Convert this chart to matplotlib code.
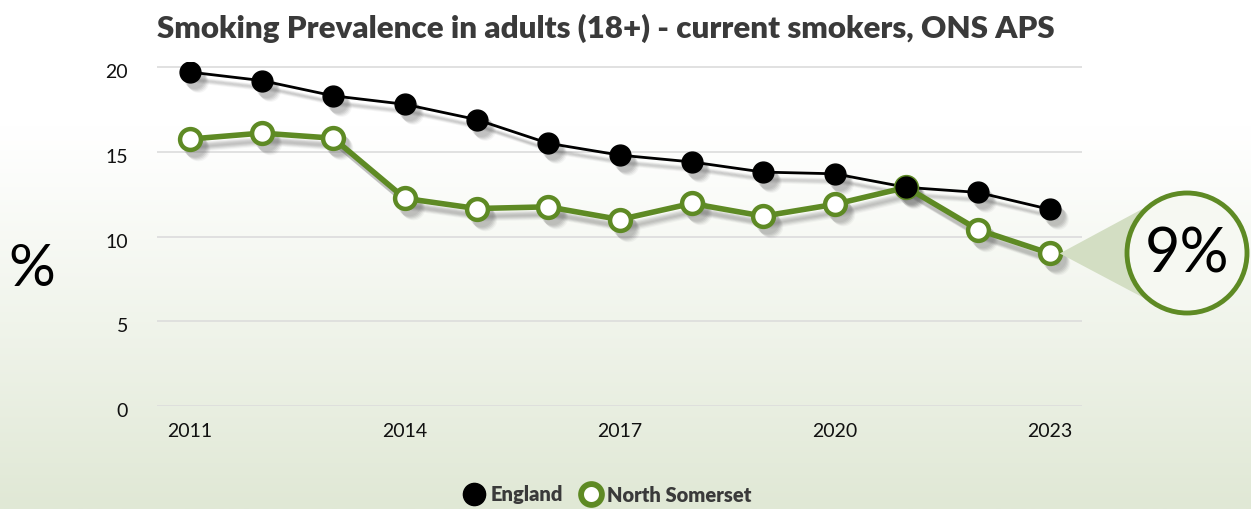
import matplotlib
matplotlib.use("Agg")
import matplotlib.pyplot as plt
import matplotlib.transforms as mtransforms
from matplotlib.patches import Circle, Polygon
from matplotlib.lines import Line2D
import numpy as np

years = list(range(2011, 2024))
england = [19.7, 19.2, 18.3, 17.8, 16.9, 15.5, 14.8, 14.4, 13.8, 13.7, 12.9, 12.6, 11.6]
north_somerset = [15.75, 16.1, 15.8, 12.25, 11.65, 11.75, 11.0, 11.95, 11.2, 11.9, 12.9, 10.4, 9.0]
xtick_years = [2011, 2014, 2017, 2020, 2023]
yticks = [0, 5, 10, 15, 20]
title = "Smoking Prevalence in adults (18+) - current smokers, ONS APS"
callout_text = "9%"

GREEN = "#5e8a24"
FONT = ["Lato", "DejaVu Sans"]
plt.rcParams["font.family"] = FONT

W, H = 1251, 509
fig = plt.figure(figsize=(W / 100, H / 100), dpi=100)

# background gradient
bg = fig.add_axes([0, 0, 1, 1], zorder=-10)
bg.axis("off")
n = 256
t = np.linspace(0, 1, n)  # 0 top, 1 bottom
f = np.clip((t - 0.25) / 0.75, 0, 1) ** 1.1
top = np.array([1.0, 1.0, 1.0])
bot = np.array([0xe0, 0xe8, 0xd5]) / 255
grad = top[None, :] * (1 - f[:, None]) + bot[None, :] * f[:, None]
bg.imshow(grad[:, None, :], aspect="auto", extent=[0, 1, 0, 1])
bg.set_xlim(0, 1)
bg.set_ylim(0, 1)

# main axes: left 157, right 1082, top 67 (y=20), bottom 406 (y=0)
ax_left = 157 / W
ax_right = 1082 / W
y20 = 67
y0 = 406
ymax = 20.3
ytop_px = y0 - (y0 - y20) * ymax / 20
ax = fig.add_axes([ax_left, 1 - y0 / H, ax_right - ax_left, (y0 - ytop_px) / H])
ax.patch.set_alpha(0)
ax.set_xlim(2010.54, 2023.45)
ax.set_ylim(0, ymax)
for s in ax.spines.values():
    s.set_visible(False)
ax.set_yticks(yticks)
ax.set_xticks(xtick_years)
ax.set_xticklabels([str(y) for y in xtick_years])
ax.tick_params(axis="both", length=0, labelsize=14, colors="#111111")
ax.tick_params(axis="y", pad=21)
ax.tick_params(axis="x", pad=12)
ax.grid(axis="y", color="#dcdcdc", linewidth=1.2)
ax.set_axisbelow(True)
shift = mtransforms.ScaledTranslation(0, -4 / 100, fig.dpi_scale_trans)
for lab in ax.get_yticklabels():
    lab.set_transform(lab.get_transform() + shift)

# shadows
for dx, dy, a in [(5, -7, 0.10), (6, -8, 0.10), (7, -9, 0.08), (4, -6, 0.08), (8, -10, 0.05)]:
    off = mtransforms.offset_copy(ax.transData, fig=fig, x=dx, y=dy, units="dots")
    ax.plot(years, england, color="#555555", lw=2, alpha=a, transform=off,
            marker="o", ms=15, mew=0, solid_capstyle="round", zorder=1)
    ax.plot(years, north_somerset, color="#555555", lw=4, alpha=a, transform=off,
            marker="o", ms=17, mew=0, solid_capstyle="round", zorder=1)

ax.plot(years, england, color="black", lw=2, marker="o", ms=15,
        mfc="black", mec="black", zorder=3)
ax.plot(years, north_somerset, color=GREEN, lw=4, marker="o", ms=15,
        mfc="white", mec=GREEN, mew=3.2, zorder=4)
# England marker at 2021 sits on top of the green one (as in reference)
ax.plot([years[10]], [england[10]], marker="o", ms=15, color="black", zorder=5,
        linestyle="none")

# callout
ov = fig.add_axes([0, 0, 1, 1], zorder=5)
ov.set_xlim(0, W)
ov.set_ylim(H, 0)
ov.axis("off")
ov.patch.set_alpha(0)
disp = ax.transData.transform((years[-1], north_somerset[-1]))
px = disp[0]
py = H - disp[1]
cx, cy, r = 1187, 253, 60
d = np.hypot(cx - px, cy - py)
ang = np.arctan2(cy - py, cx - px)
half = np.arcsin(r / d)
L = np.sqrt(d ** 2 - r ** 2)
p1 = (px + L * np.cos(ang + half), py + L * np.sin(ang + half))
p2 = (px + L * np.cos(ang - half), py + L * np.sin(ang - half))
ov.add_patch(Polygon([(px + 10, py), p1, (cx, cy), p2], closed=True,
                     facecolor="#d3dec3", edgecolor="none", zorder=1))
ov.add_patch(Circle((cx, cy), r, facecolor="#f6f8f2", edgecolor=GREEN, lw=3.5, zorder=2))
ov.text(cx, cy + 2, callout_text, ha="center", va="center", fontsize=44,
        fontweight="normal", color="black", zorder=3)

# big % label on left
fig.text(32 / W, 1 - 270 / H, "%", ha="center", va="center", fontsize=42,
         fontweight="normal", color="black")

# title, sized to span the same width as the reference
tt = fig.text(157 / W, 1 - 28 / H, title, ha="left", va="center", fontsize=17,
              fontweight="heavy", color="#3a3a3a")
fig.canvas.draw()
w = tt.get_window_extent().width
tt.set_fontsize(17 * 898 / w)

# legend
handles = [
    Line2D([], [], linestyle="none", marker="o", ms=16, mfc="black", mec="black"),
    Line2D([], [], linestyle="none", marker="o", ms=15, mfc="white", mec=GREEN, mew=4.2),
]
fig.legend(handles, ["England", "North Somerset"], loc="center",
           bbox_to_anchor=(607 / W, 1 - 495 / H), ncol=2, frameon=False,
           prop={"weight": "heavy", "size": 14.5}, labelcolor="#3a3a3a",
           handletextpad=0.2, columnspacing=0.8, handlelength=1.2)

fig.savefig("out.png", dpi=100)
